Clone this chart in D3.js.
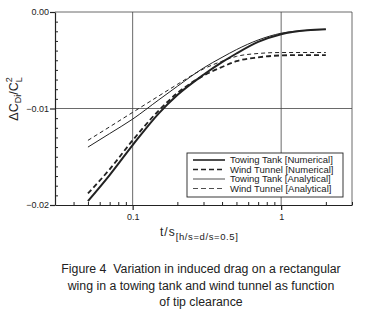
<!DOCTYPE html>
<html>
<head>
<meta charset="utf-8">
<script src="https://cdn.jsdelivr.net/npm/d3@7"></script>
<style>
  body { margin: 0; background: #fff; }
  svg text { font-family: "Liberation Sans", Arial, sans-serif; fill: #222; white-space: pre; }
</style>
</head>
<body>
<div id="chart"></div>
<script>
// chart size
const width = 375;
const height = 317;
const margin = { top: 12, right: 23, bottom: 112, left: 55 };

// tip clearance t/s (log axis)
const clearance = [0.05, 0.07, 0.1, 0.15, 0.2, 0.3, 0.4, 0.5, 0.7, 1, 1.5, 2];

// dCDi/CL^2
const towingNumerical = [-0.0196, -0.0169, -0.0138, -0.0105, -0.0086, -0.0065, -0.0052, -0.0043, -0.0031, -0.0023, -0.0019, -0.0018];
const windNumerical = [-0.0188, -0.0163, -0.0133, -0.0102, -0.0084, -0.0066, -0.0057, -0.0051, -0.0047, -0.0045, -0.00446, -0.00446];
const towingAnalytical = [-0.0140, -0.0126, -0.0111, -0.0091, -0.0077, -0.0058, -0.0047, -0.0039, -0.0029, -0.0022, -0.0019, -0.0018];
const windAnalytical = [-0.0133, -0.0119, -0.0104, -0.0087, -0.0075, -0.0059, -0.0051, -0.0046, -0.0043, -0.0042, -0.0042, -0.0042];

const seriesNames = ["Towing Tank [Numerical]", "Wind Tunnel [Numerical]", "Towing Tank [Analytical]", "Wind Tunnel [Analytical]"];

const xTicks = [0.1, 1];
const xMinorTicks = [0.04, 0.05, 0.06, 0.07, 0.08, 0.09, 0.2, 0.3, 0.4, 0.5, 0.6, 0.7, 0.8, 0.9, 2, 3];
const yTicks = [0, -0.01, -0.02];
const yMinorTicks = d3.range(1, 20).filter(i => i !== 10).map(i => -i / 1000);

const captionLines = [
    "Figure 4  Variation in induced drag on a rectangular",
    "wing in a towing tank and wind tunnel as function",
    "of tip clearance"
];

const ink = "#222";

const svg = d3.select("#chart").append("svg")
    .attr("width", width)
    .attr("height", height);

const xScale = d3.scaleLog()
    .domain([0.03, 3])
    .range([margin.left, width - margin.right]);

const yScale = d3.scaleLinear()
    .domain([-0.02, 0])
    .range([height - margin.bottom, margin.top]);

const x0 = margin.left, x1 = width - margin.right;
const y0 = yScale(-0.02), y1 = yScale(0);

// grid lines
svg.append("g")
    .selectAll("line")
    .data(xTicks)
    .enter()
    .append("line")
    .attr("x1", d => xScale(d)).attr("x2", d => xScale(d))
    .attr("y1", y0).attr("y2", y1)
    .attr("stroke", "#444")
    .attr("stroke-width", 0.8);

svg.append("g")
    .selectAll("line")
    .data([-0.01])
    .enter()
    .append("line")
    .attr("x1", x0).attr("x2", x1)
    .attr("y1", d => yScale(d)).attr("y2", d => yScale(d))
    .attr("stroke", "#444")
    .attr("stroke-width", 0.8);

// frame top + right
svg.append("path")
    .attr("d", `M${x0},${y1}H${x1}V${y0}`)
    .attr("fill", "none")
    .attr("stroke", "#444")
    .attr("stroke-width", 0.8);

// minor ticks (inside)
svg.append("g")
    .attr("transform", `translate(${x0},0)`)
    .call(d3.axisRight(yScale).tickValues(yMinorTicks).tickSize(3).tickFormat(""))
    .call(g => g.select(".domain").remove())
    .selectAll("line").attr("stroke", ink);

svg.append("g")
    .attr("transform", `translate(0,${y0})`)
    .call(d3.axisTop(xScale).tickValues(xMinorTicks).tickSize(3).tickFormat(""))
    .call(g => g.select(".domain").remove())
    .selectAll("line").attr("stroke", ink);

// major axes
const yAxis = svg.append("g")
    .attr("transform", `translate(${x0},0)`)
    .call(d3.axisLeft(yScale).tickValues(yTicks).tickSize(5).tickSizeOuter(0)
        .tickFormat(d => d === 0 ? "0.00" : d3.format(".2f")(d)));
yAxis.select(".domain").attr("stroke", ink).attr("stroke-width", 1.2);
yAxis.selectAll("line").attr("stroke", ink).attr("stroke-width", 1.2);
yAxis.selectAll("text").style("font-size", "9px").attr("x", -6);

const xAxis = svg.append("g")
    .attr("transform", `translate(0,${y0})`)
    .call(d3.axisBottom(xScale).tickValues(xTicks).tickSize(5).tickSizeOuter(0)
        .tickFormat(d => d));
xAxis.select(".domain").attr("stroke", ink).attr("stroke-width", 1.2);
xAxis.selectAll("line").attr("stroke", ink).attr("stroke-width", 1.2);
xAxis.selectAll("text").style("font-size", "9px").attr("y", 9);

// curves
const styles = [
    { values: towingNumerical, width: 2, dash: null },
    { values: windNumerical, width: 1.8, dash: "5,3" },
    { values: towingAnalytical, width: 1, dash: null },
    { values: windAnalytical, width: 1, dash: "4,3" }
];

const line = d3.line()
    .x(d => xScale(d[0]))
    .y(d => yScale(d[1]))
    .curve(d3.curveMonotoneX);

styles.forEach(s => {
    svg.append("path")
        .datum(clearance.map((t, i) => [t, s.values[i]]))
        .attr("d", line)
        .attr("fill", "none")
        .attr("stroke", ink)
        .attr("stroke-width", s.width)
        .attr("stroke-dasharray", s.dash);
});

// legend
const legend = svg.append("g")
    .attr("transform", "translate(187,153)");

legend.append("rect")
    .attr("width", 156)
    .attr("height", 44)
    .attr("fill", "#fff")
    .attr("stroke", ink)
    .attr("stroke-width", 0.9);

styles.forEach((s, i) => {
    const ly = 7 + i * 9.5;
    legend.append("line")
        .attr("x1", 6).attr("x2", 38)
        .attr("y1", ly).attr("y2", ly)
        .attr("stroke", ink)
        .attr("stroke-width", s.width * 0.8)
        .attr("stroke-dasharray", s.dash ? "5,3" : null);
    legend.append("text")
        .attr("x", 43)
        .attr("y", ly)
        .attr("dy", "0.35em")
        .style("font-size", "9.5px")
        .text(seriesNames[i]);
});

// y label
const yLabel = svg.append("text")
    .attr("transform", `translate(18,99) rotate(-90)`)
    .attr("text-anchor", "middle")
    .style("font-size", "12.5px");
yLabel.append("tspan").text("ΔC");
yLabel.append("tspan").attr("dy", 3).style("font-size", "9px").text("Di");
yLabel.append("tspan").attr("dy", -3).text("/C");
yLabel.append("tspan").attr("dy", -6).style("font-size", "9px").text("2");
yLabel.append("tspan").attr("dx", -5).attr("dy", 10).style("font-size", "9px").text("L");

// x label
const xLabel = svg.append("text")
    .attr("x", 160)
    .attr("y", 236)
    .style("font-size", "12px")
    .style("letter-spacing", "1px");
xLabel.append("tspan").text("t/s");
xLabel.append("tspan").attr("dy", 4).style("font-size", "9.5px").style("letter-spacing", "0.6px").text("[h/s=d/s=0.5]");

// caption
svg.append("g")
    .selectAll("text")
    .data(captionLines)
    .enter()
    .append("text")
    .attr("x", 201)
    .attr("y", (d, i) => 273 + i * 16.5)
    .attr("text-anchor", "middle")
    .style("font-size", "12.3px")
    .text(d => d);
</script>
</body>
</html>
